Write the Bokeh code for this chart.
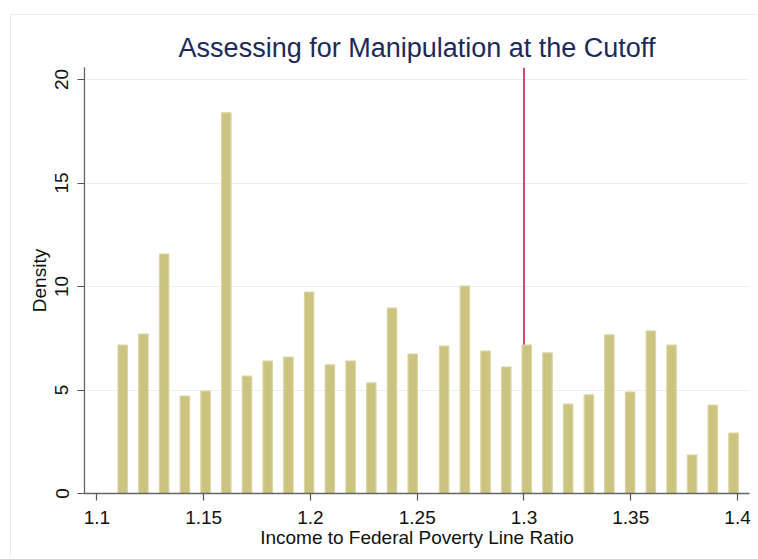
from bokeh.plotting import figure
from bokeh.models import Range1d, FixedTicker, Span
from bokeh.embed import file_html
from bokeh.resources import INLINE

# ---- data ----
bin_centers = [1.1121, 1.1218, 1.1315, 1.1412, 1.1509, 1.1606, 1.1703, 1.1800,
               1.1897, 1.1994, 1.2091, 1.2188, 1.2285, 1.2382, 1.2479,
               1.2626, 1.2723, 1.2820, 1.2917, 1.3013, 1.3110, 1.3207, 1.3304,
               1.3400, 1.3497, 1.3594, 1.3691, 1.3787, 1.3884, 1.3981]
density = [7.17, 7.70, 11.57, 4.71, 4.95, 18.39, 5.67, 6.40, 6.59, 9.73,
           6.21, 6.40, 5.34, 8.96, 6.74,
           7.12, 10.02, 6.88, 6.11, 7.17, 6.79, 4.32, 4.76, 7.66, 4.90,
           7.85, 7.17, 1.86, 4.27, 2.92]
cutoff = 1.3
x_ticks = [1.1, 1.15, 1.2, 1.25, 1.3, 1.35, 1.4]
x_tick_labels = ["1.1", "1.15", "1.2", "1.25", "1.3", "1.35", "1.4"]
y_ticks = [0, 5, 10, 15, 20]
y_tick_labels = ["0", "5", "10", "15", "20"]

FONT = "Liberation Sans"
NAVY = "#1c2a5a"
FRAME = "#e4ecee"

p = figure(width=756, height=557, output_backend="svg", toolbar_location=None,
           x_range=Range1d(1.0942, 1.4056), y_range=Range1d(0, 20.58),
           min_border_left=84, min_border_right=7, min_border_top=67,
           min_border_bottom=64,
           title="Assessing for Manipulation at the Cutoff")
p.styles = {
    "background":
        f"linear-gradient({FRAME},{FRAME}) 10px 14px / 1px 100% no-repeat, "
        f"linear-gradient({FRAME},{FRAME}) 10px 14px / 100% 1px no-repeat, white"
}

p.title.align = "center"
p.title.text_font = FONT
p.title.text_font_size = "27px"
p.title.text_font_style = "normal"
p.title.text_color = NAVY
p.title.standoff = 10

p.outline_line_color = None
p.background_fill_color = "white"
p.border_fill_color = None

p.xgrid.grid_line_color = None
p.ygrid.grid_line_color = "#e7eff1"
p.ygrid.grid_line_width = 1.2
p.ygrid.ticker = FixedTicker(ticks=y_ticks)

cut = Span(location=cutoff, dimension="height", line_color="#c8204a",
           line_width=1.6, level="underlay")
p.add_layout(cut)

p.vbar(x=bin_centers, top=density, bottom=0, width=0.0044,
       fill_color="#cbc380", line_color="#d9d4a0", line_width=1.2)

for ax in (p.xaxis[0], p.yaxis[0]):
    ax.axis_line_color = "#666666"
    ax.axis_line_width = 1.3
    ax.major_tick_line_color = "#555555"
    ax.major_tick_line_width = 1.2
    ax.major_tick_out = 7
    ax.major_tick_in = 0
    ax.minor_tick_line_color = None
    ax.major_label_text_font = FONT
    ax.major_label_text_font_size = "19px"
    ax.major_label_text_color = "#111111"
    ax.axis_label_text_font = FONT
    ax.axis_label_text_font_size = "19px"
    ax.axis_label_text_font_style = "normal"
    ax.axis_label_text_color = "#111111"

p.xaxis[0].ticker = FixedTicker(ticks=x_ticks)
p.xaxis[0].major_label_overrides = dict(zip(x_ticks, x_tick_labels))
p.xaxis[0].axis_label = "Income to Federal Poverty Line Ratio"
p.xaxis[0].major_label_standoff = 10
p.xaxis[0].axis_label_standoff = 0

p.yaxis[0].ticker = FixedTicker(ticks=y_ticks)
p.yaxis[0].major_label_overrides = dict(zip(y_ticks, y_tick_labels))
p.yaxis[0].major_label_orientation = "vertical"
p.yaxis[0].axis_label = "Density"
p.yaxis[0].major_label_standoff = 9
p.yaxis[0].axis_label_standoff = 3

open("out.html", "w").write(file_html(p, INLINE))
